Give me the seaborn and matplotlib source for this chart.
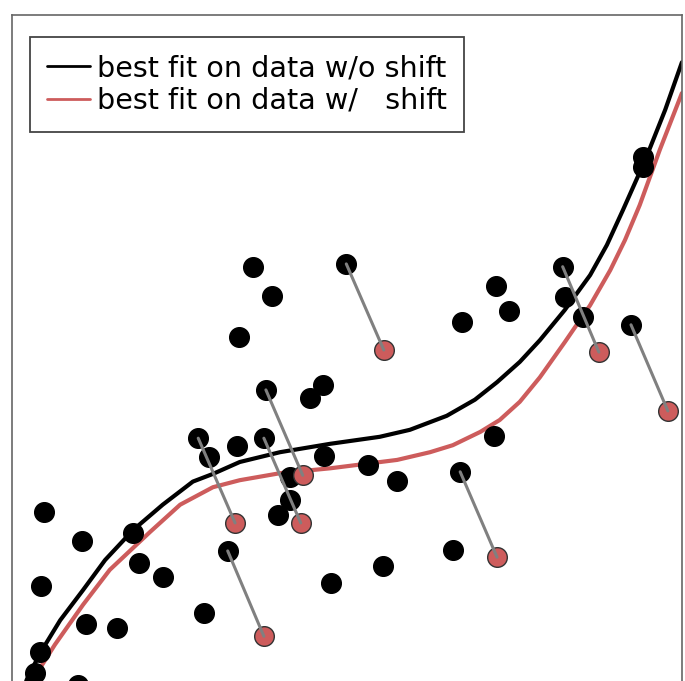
import matplotlib
matplotlib.use("Agg")
import matplotlib.pyplot as plt
import seaborn as sns
import pandas as pd

# Data
# points that stay where they are
plain_x = [0.48, 0.43, 1.04, 1.10, 1.57, 1.81, 1.90, 2.25, 2.87, 3.60, 3.88, 3.39,
           4.45, 4.64, 2.94, 3.36, 4.66, 5.31, 5.75, 7.19, 6.72, 7.22, 7.42, 4.15,
           4.15, 3.97, 6.58, 5.54, 4.76, 0.42, 0.34, 0.99, 8.25, 8.52, 9.42, 9.42]
plain_y = [2.69, 1.63, 2.27, 1.09, 1.03, 2.39, 1.96, 1.76, 1.24, 6.19, 5.77, 5.19,
           4.31, 4.50, 3.47, 3.63, 3.49, 3.36, 3.13, 3.77, 5.40, 5.91, 5.56, 3.19,
           2.86, 2.64, 2.14, 1.91, 1.67, 0.69, 0.39, 0.21, 5.76, 5.47, 7.76, 7.61]

# points that get shifted: original position and shifted position
orig_x = [2.78, 3.76, 3.79, 4.99, 3.22, 6.69, 8.22, 9.24]
orig_y = [3.74, 3.74, 4.43, 6.23, 2.13, 3.26, 6.19, 5.36]
shift_x = [3.33, 4.31, 4.34, 5.55, 3.76, 7.24, 8.76, 9.79]
shift_y = [2.53, 2.53, 3.21, 5.00, 0.91, 2.04, 4.97, 4.13]

# fitted curves
fit_x = [0.12, 0.22, 0.42, 0.72, 1.06, 1.39, 1.81, 2.25, 2.70, 3.00, 3.40, 4.00,
         4.75, 5.49, 5.94, 6.49, 6.91, 7.24, 7.58, 7.88, 8.25, 8.63, 8.88, 9.12,
         9.45, 9.75, 10.0]
fit_y = [0.00, 0.29, 0.67, 1.14, 1.57, 2.00, 2.43, 2.79, 3.12, 3.23, 3.40, 3.54,
         3.66, 3.76, 3.86, 4.06, 4.29, 4.54, 4.83, 5.14, 5.57, 6.07, 6.50, 7.00,
         7.71, 8.43, 9.11]
fit_shift_x = [0.21, 0.31, 0.64, 1.06, 1.46, 2.06, 2.51, 3.00, 3.40, 4.00, 4.75,
               5.75, 6.24, 6.58, 6.99, 7.28, 7.58, 7.88, 8.25, 8.63, 8.93, 9.15,
               9.37, 9.67, 10.0]
fit_shift_y = [0.00, 0.29, 0.79, 1.36, 1.86, 2.40, 2.79, 3.04, 3.14, 3.24, 3.31,
               3.43, 3.54, 3.64, 3.83, 4.00, 4.26, 4.61, 5.11, 5.64, 6.14, 6.57,
               7.07, 7.86, 8.67]

RED = "#cd5c5c"

sns.set_style("white")
plt.rcParams["font.family"] = ["DejaVu Sans"]

fig = plt.figure(figsize=(6.85, 6.81), dpi=100)
ax = fig.add_axes([0.0175, -0.0279, 0.978, 1.0059])

df_fit = pd.DataFrame({"x": fit_x, "y": fit_y})
df_fit_s = pd.DataFrame({"x": fit_shift_x, "y": fit_shift_y})
sns.lineplot(data=df_fit, x="x", y="y", sort=False, color="black", lw=3,
             ax=ax, label="best fit on data w/o shift", zorder=2)
sns.lineplot(data=df_fit_s, x="x", y="y", sort=False, color=RED, lw=3,
             ax=ax, label="best fit on data w/   shift", zorder=2)

# black dots (plain + original positions of shifted ones)
sns.scatterplot(x=plain_x + orig_x, y=plain_y + orig_y, color="black", s=200,
                edgecolor="black", linewidth=1, ax=ax, zorder=3, legend=False)
# shifted dots
sns.scatterplot(x=shift_x, y=shift_y, color=RED, s=200, edgecolor="#333333",
                linewidth=1, ax=ax, zorder=4, legend=False)
# connecting lines
for x0, y0, x1, y1 in zip(orig_x, orig_y, shift_x, shift_y):
    ax.plot([x0, x1], [y0, y1], color="gray", lw=2.2, zorder=5)

ax.set_xlim(0, 10)
ax.set_ylim(0, 9.786)
ax.set_xticks([])
ax.set_yticks([])
ax.set_xlabel("")
ax.set_ylabel("")
for sp in ax.spines.values():
    sp.set_color("#666666")
    sp.set_linewidth(1.2)

leg = ax.legend(loc="upper left", bbox_to_anchor=(0.027, 0.968), borderaxespad=0,
                fontsize=20.6, fancybox=False, framealpha=1, edgecolor="#444444",
                handlelength=1.5, handletextpad=0.25, labelspacing=0.17,
                borderpad=0.6, labelcolor="black")
leg.get_frame().set_linewidth(1.3)
for h in leg.get_lines():
    h.set_linewidth(2)

fig.savefig("out.png", dpi=100)
